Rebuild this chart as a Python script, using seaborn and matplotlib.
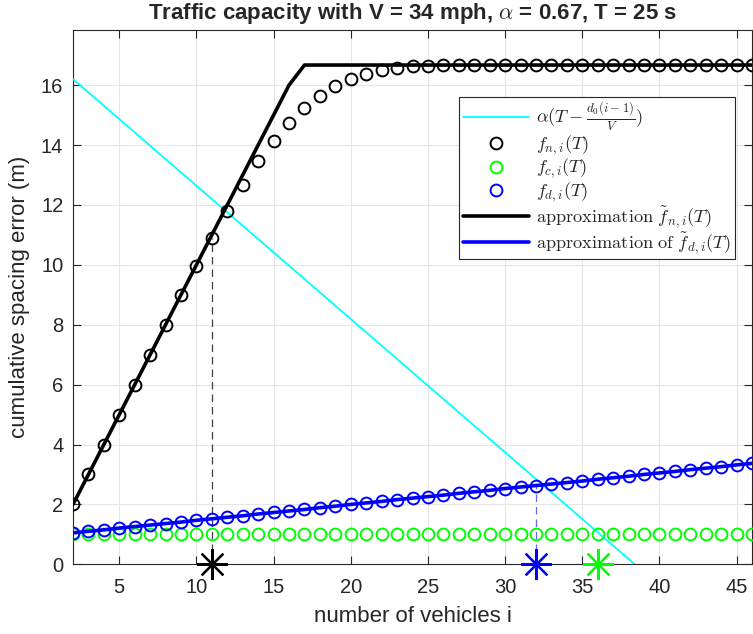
import numpy as np
import pandas as pd
import matplotlib
matplotlib.use("Agg")
import matplotlib.pyplot as plt
import seaborn as sns

# ---- data ----
vehicles = list(range(2, 47))
f_n = [2.0, 3.0, 4.0, 5.0, 6.0, 7.0, 7.98, 9.0, 9.95, 10.9, 11.8, 12.65, 13.45,
       14.12, 14.75, 15.25, 15.65, 15.97, 16.2, 16.38, 16.5, 16.58, 16.63, 16.65,
       16.67, 16.67, 16.67, 16.67, 16.67, 16.67, 16.67, 16.67, 16.67, 16.67,
       16.67, 16.67, 16.67, 16.67, 16.67, 16.67, 16.67, 16.67, 16.67, 16.67, 16.67]
approx_fn = [2, 3, 4, 5, 6, 7, 8, 9, 10, 11, 12, 13, 14, 15, 16,
             16.67, 16.67, 16.67, 16.67, 16.67, 16.67, 16.67, 16.67, 16.67, 16.67,
             16.67, 16.67, 16.67, 16.67, 16.67, 16.67, 16.67, 16.67, 16.67, 16.67,
             16.67, 16.67, 16.67, 16.67, 16.67, 16.67, 16.67, 16.67, 16.67, 16.67]
f_c = [1.0] * 45
f_d = [1.05, 1.10, 1.15, 1.21, 1.26, 1.31, 1.36, 1.41, 1.47, 1.52, 1.57, 1.62,
       1.68, 1.73, 1.78, 1.83, 1.89, 1.94, 2.00, 2.05, 2.10, 2.16, 2.21, 2.26,
       2.31, 2.37, 2.42, 2.47, 2.53, 2.58, 2.63, 2.68, 2.73, 2.78, 2.84, 2.89,
       2.94, 3.00, 3.05, 3.10, 3.16, 3.21, 3.26, 3.32, 3.37]
approx_fd = [1.05, 1.10, 1.15, 1.21, 1.26, 1.31, 1.36, 1.41, 1.47, 1.52, 1.57, 1.62,
             1.68, 1.73, 1.78, 1.83, 1.89, 1.94, 2.00, 2.05, 2.10, 2.16, 2.21, 2.26,
             2.31, 2.37, 2.42, 2.47, 2.53, 2.58, 2.63, 2.68, 2.73, 2.78, 2.84, 2.89,
             2.94, 3.00, 3.05, 3.10, 3.16, 3.21, 3.26, 3.32, 3.37]
bound_x = [2, 38.4]
bound_y = [16.2, 0.0]
cap_n, cap_n_val = 11, 10.9
cap_d, cap_d_val = 32, 2.63
cap_c = 36
x_ticks = [5, 10, 15, 20, 25, 30, 35, 40, 45]
y_ticks = [0, 2, 4, 6, 8, 10, 12, 14, 16]

sns.set_style("whitegrid")
plt.rcParams['font.family'] = ['Liberation Sans', 'DejaVu Sans']
plt.rcParams['mathtext.fontset'] = 'cm'

fig = plt.figure(figsize=(7.53, 6.34), dpi=100)
ax = fig.add_axes([73/753, 69.7/634, 679/753, 534.6/634])

BLUE = (0, 0, 1)
GREEN = (0, 1, 0)
CYAN = (0, 1, 1)
DARK = (0.15, 0.15, 0.15)

sns.lineplot(x=bound_x, y=bound_y, ax=ax, color=CYAN, lw=1.3,
             label=r'$\alpha(T - \frac{d_0(i-1)}{V})$', zorder=3)
sns.lineplot(x=vehicles, y=f_n, ax=ax, color='k', linestyle='none', marker='o',
             ms=8.5, mfc='none', mec='k', mew=1.4, label=r'$f_{n,i}(T)$', zorder=4)
sns.lineplot(x=vehicles, y=f_c, ax=ax, color=GREEN, linestyle='none', marker='o',
             ms=8.5, mfc='none', mec=GREEN, mew=1.4, label=r'$f_{c,i}(T)$', zorder=4)
sns.lineplot(x=vehicles, y=f_d, ax=ax, color=BLUE, linestyle='none', marker='o',
             ms=8.5, mfc='none', mec=BLUE, mew=1.4, label=r'$f_{d,i}(T)$', zorder=4)
sns.lineplot(x=vehicles, y=approx_fn, ax=ax, color='k', lw=2.6,
             label=r'$\mathrm{approximation}\ \tilde{f}_{n,i}(T)$', zorder=5)
sns.lineplot(x=vehicles, y=approx_fd, ax=ax, color=BLUE, lw=2.6,
             label=r'$\mathrm{approximation\ of}\ \tilde{f}_{d,i}(T)$', zorder=5)

# dashed guide lines
ax.plot([cap_n, cap_n], [0, cap_n_val], color=(0.25, 0.25, 0.25), lw=0.9,
        dashes=(6, 4), zorder=2)
ax.plot([cap_d, cap_d], [0, cap_d_val], color=(0.4, 0.4, 1.0), lw=0.9,
        dashes=(6, 4), zorder=2)

# capacity stars
star = (8, 2, 0)
for xv, c in [(cap_n, 'k'), (cap_d, BLUE), (cap_c, GREEN)]:
    ax.plot([xv], [0], marker=star, ms=22, mew=1.6, color=c, linestyle='none',
            clip_on=False, zorder=10)

ax.set_xlim(2, 46)
ax.set_ylim(0, 17.85)
ax.set_xticks(x_ticks)
ax.set_yticks(y_ticks)
ax.grid(True, color=(0.9, 0.9, 0.9), lw=0.8)
ax.set_axisbelow(True)
for s in ax.spines.values():
    s.set_color(DARK)
    s.set_linewidth(0.8)
    s.set_visible(True)
ax.tick_params(direction='in', length=6, width=0.8, color=DARK,
               top=True, right=True, bottom=True, left=True,
               labelsize=14.5, labelcolor=DARK)
ax.tick_params(axis='y', pad=7)
ax.tick_params(axis='x', pad=10)
ax.set_xlabel('number of vehicles i', fontsize=16, color=DARK, labelpad=6)
ax.set_ylabel('cumulative spacing error (m)', fontsize=16, color=DARK, labelpad=8)
ax.set_title(r'Traffic capacity with V = 34 mph, $\alpha$ = 0.67, T = 25 s',
             fontsize=16, fontweight='bold', pad=8)

leg = ax.legend(loc='upper right', bbox_to_anchor=(0.975, 0.874), borderaxespad=0,
                fontsize=13.2, frameon=True, fancybox=False, handlelength=3.6,
                handletextpad=0.4, borderpad=0.2, labelspacing=0.0,
                handleheight=0.6)
leg.get_frame().set_edgecolor(DARK)
leg.get_frame().set_linewidth(0.8)
leg.get_frame().set_alpha(1)

fig.savefig('out.png', dpi=100)
